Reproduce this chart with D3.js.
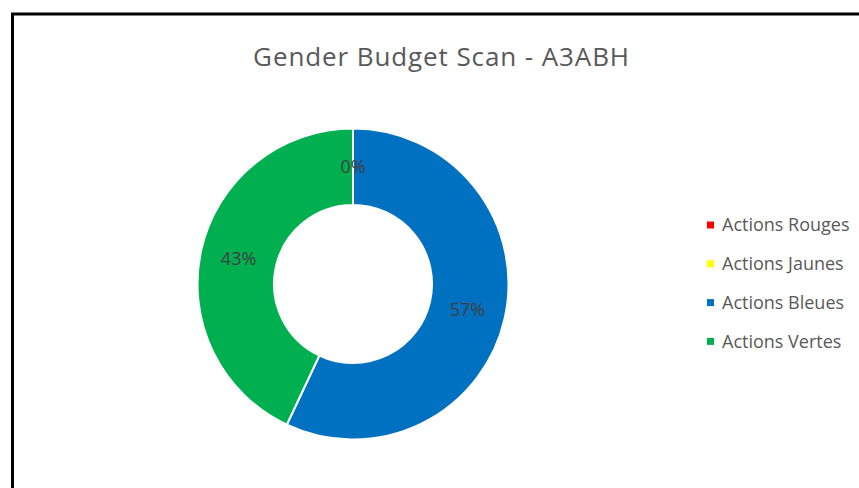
<!DOCTYPE html>
<html>
<head>
<meta charset="utf-8">
<script src="https://cdn.jsdelivr.net/npm/d3@7"></script>
<style>
  body { margin: 0; background: #fff; }
  text { font-family: "Open Sans", sans-serif; }
</style>
</head>
<body>
<div id="chart"></div>
<script>
const title = "Gender Budget Scan - A3ABH";
const categories = ["Actions Rouges", "Actions Jaunes", "Actions Bleues", "Actions Vertes"];
const values = [0, 0, 57, 43];
const colors = ["#FF0000", "#FFFF00", "#0070C0", "#00B050"];

const width = 859;
const height = 488;
const cx = 353, cy = 284;
const outerR = 155.5, innerR = 79;

const svg = d3.select("#chart")
  .append("svg")
  .attr("width", width)
  .attr("height", height);

// frame, cut off at right and bottom
svg.append("rect")
  .attr("x", 12.5)
  .attr("y", 14)
  .attr("width", width + 20)
  .attr("height", height + 20)
  .attr("fill", "none")
  .attr("stroke", "#000")
  .attr("stroke-width", 3);

svg.append("text")
  .attr("x", 441.5)
  .attr("y", 66)
  .attr("text-anchor", "middle")
  .attr("font-size", 26)
  .attr("letter-spacing", 0.9)
  .attr("fill", "#595959")
  .text(title);

const data = categories.map((c, i) => ({ name: c, value: values[i], color: colors[i] }));

const pie = d3.pie().value(d => d.value).sort(null);
const arcs = pie(data);
const arc = d3.arc().innerRadius(innerR).outerRadius(outerR);
const labelArc = d3.arc().innerRadius((innerR + outerR) / 2).outerRadius((innerR + outerR) / 2);

const g = svg.append("g").attr("transform", `translate(${cx},${cy})`);

g.selectAll("path")
  .data(arcs)
  .enter()
  .append("path")
  .attr("d", arc)
  .attr("fill", d => d.data.color)
  .attr("stroke", "#fff")
  .attr("stroke-width", 2);

const total = d3.sum(values);
g.selectAll("text.lbl")
  .data(arcs.filter((d, i) => i !== 1))
  .enter()
  .append("text")
  .attr("class", "lbl")
  .attr("transform", d => `translate(${labelArc.centroid(d)})`)
  .attr("text-anchor", "middle")
  .attr("dy", "0.35em")
  .attr("font-size", 18)
  .attr("fill", "#404040")
  .text(d => Math.round(d.data.value / total * 100) + "%");

const legend = svg.append("g").attr("transform", "translate(707,225)");
const row = legend.selectAll("g")
  .data(data)
  .enter()
  .append("g")
  .attr("transform", (d, i) => `translate(0,${i * 38.8})`);

row.append("rect")
  .attr("x", 0)
  .attr("y", -3.5)
  .attr("width", 7)
  .attr("height", 7)
  .attr("fill", d => d.color);

row.append("text")
  .attr("x", 15)
  .attr("dy", "0.35em")
  .attr("font-size", 18)
  .attr("fill", "#595959")
  .text(d => d.name);
</script>
</body>
</html>
